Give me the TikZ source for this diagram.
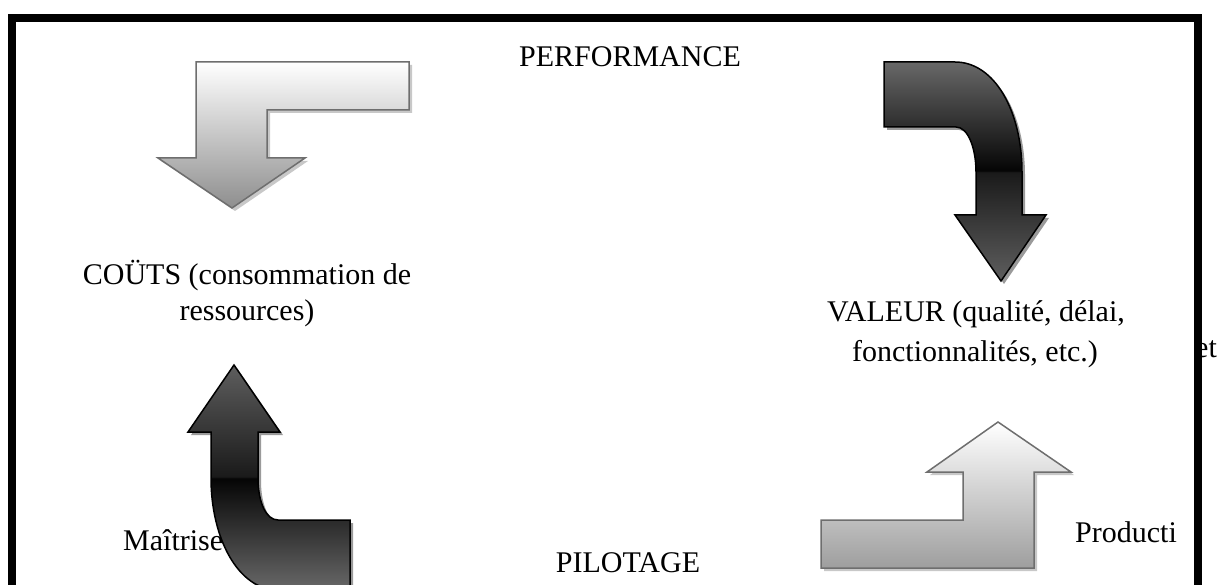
\documentclass[tikz,border=0pt]{standalone}
\usepackage{fontspec}
\setmainfont{Liberation Serif}
\definecolor{lightedge}{HTML}{6E6E6E}
\definecolor{lightshadow}{HTML}{C8C8C8}
\definecolor{darkshadow}{HTML}{9A9A9A}
\definecolor{dA}{HTML}{5E5E5E}
\definecolor{dB}{HTML}{1A1A1A}
\definecolor{dC}{HTML}{050505}
\definecolor{dD}{HTML}{686868}
\definecolor{lgTL}{HTML}{8E8E8E}
\definecolor{lgBR}{HTML}{9E9E9E}
\pgfdeclareverticalshading{darkseam}{100bp}{color(0bp)=(dA); color(25bp)=(dA); color(49.8bp)=(dB); color(50.2bp)=(dC); color(75bp)=(dD); color(100bp)=(dD)}
\tikzset{
  lbl/.style={inner sep=0pt, font=\fontsize{30}{35}\selectfont},
  lightarrow/.style={draw=lightedge, line width=1.5pt, line join=miter, top color=white},
  darkarrow/.style={draw=black, line width=1.5pt, line join=miter, shading=darkseam},
  shadowlight/.style={fill=lightshadow, shift={(3,3)}},
  shadowdark/.style={fill=darkshadow, shift={(3,3)}},
  pathTL/.style={insert path={(196,62) -- (409,62) -- (409,110) -- (267,110) -- (267,158) -- (305,158) -- (232,208) -- (158,158) -- (196,158) -- cycle}},
  pathTR/.style={insert path={(884,62) -- (955,62) .. controls (995,62) and (1022,112) .. (1022,172) -- (1022,215) -- (1046,215) -- (1001,281) -- (955,215) -- (976,215) -- (976,172) .. controls (976,148) and (968,127) .. (956,127) -- (884,127) -- cycle}},
  pathBL/.style={insert path={(234,365) -- (280,432) -- (258,432) -- (258,478) .. controls (258,502) and (266,520) .. (278,520) -- (350,520) -- (350,590) -- (278,590) .. controls (238,590) and (211,538) .. (211,478) -- (211,432) -- (188,432) -- cycle}},
  pathBR/.style={insert path={(821,520) -- (963,520) -- (963,472) -- (927,472) -- (998,422) -- (1071,472) -- (1034,472) -- (1034,568) -- (821,568) -- cycle}}
}
\begin{document}
\begin{tikzpicture}[x=1pt,y=-1pt]
\useasboundingbox (0,0) rectangle (1221,585);
\clip (0,0) rectangle (1221,585);
\fill[white] (0,0) rectangle (1221,585);

% labels
\node[lbl, anchor=base] (perf) at (630,67) {PERFORMANCE};
\node[lbl, anchor=base] (couts1) at (247,285) {COÜTS (consommation de};
\node[lbl, anchor=base] (couts2) at (247,320) {ressources)};
\node[lbl, anchor=base] (val1) at (976,322) {VALEUR (qualité, délai,};
\node[lbl, anchor=base] (val2) at (975,362) {fonctionnalités, etc.)};
\node[lbl, anchor=base west] (maitrise) at (123,550) {Maîtrise};
\node[lbl, anchor=base] (pilot) at (628,572) {PILOTAGE};
\node[lbl, anchor=base west] (product) at (1075,542) {Producti};
\node[lbl, anchor=base west] (et) at (1195,357) {et};

% shadows
\path[shadowlight, pathTL];
\path[shadowlight, pathBR];
\path[shadowdark, pathTR];
\path[shadowdark, pathBL];

% arrows
\path[lightarrow, bottom color=lgTL, pathTL];
\path[lightarrow, bottom color=lgBR, pathBR];
\path[darkarrow, pathTR];
\path[darkarrow, shading angle=180, pathBL];

% frame
\draw[line width=8pt] (12,18.5) rectangle (1197.5,640);
\end{tikzpicture}
\end{document}
